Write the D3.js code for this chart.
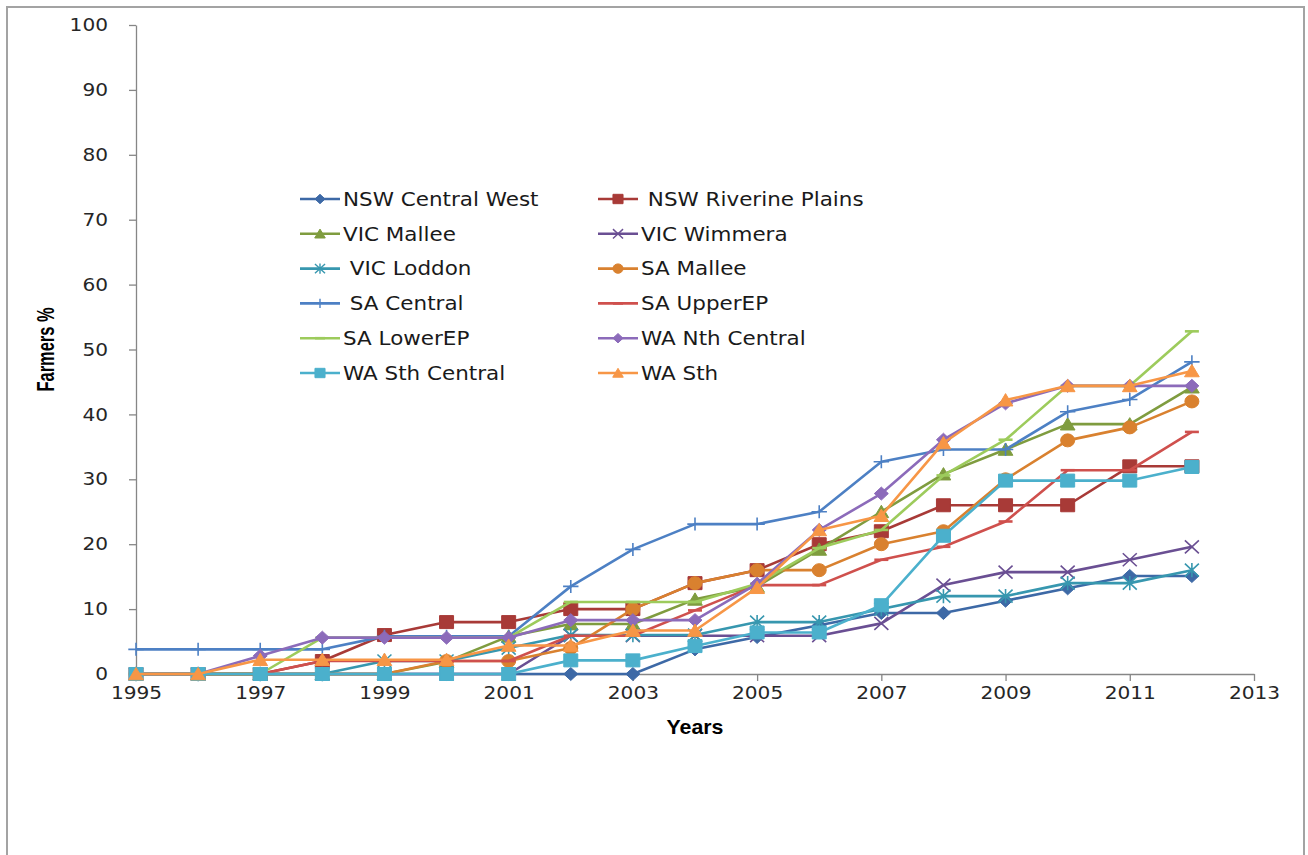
<!DOCTYPE html>
<html>
<head>
<meta charset="utf-8">
<script src="https://cdn.jsdelivr.net/npm/d3@7"></script>
<style>
  html, body { margin: 0; padding: 0; background: #ffffff; }
  svg { display: block; }
  text { white-space: pre; }
</style>
</head>
<body>
<svg id="chart" width="1308" height="855"></svg>
<script>
// ---- data -------------------------------------------------------------
const years = [1995, 1996, 1997, 1998, 1999, 2000, 2001, 2002, 2003,
               2004, 2005, 2006, 2007, 2008, 2009, 2010, 2011, 2012];
const yTickValues = [0, 10, 20, 30, 40, 50, 60, 70, 80, 90, 100];
const xTickValues = [1995, 1997, 1999, 2001, 2003, 2005, 2007, 2009, 2011, 2013];

const seriesNames = [
  "NSW Central West", " NSW Riverine Plains",
  "VIC Mallee", "VIC Wimmera",
  " VIC Loddon", "SA Mallee",
  " SA Central", "SA UpperEP",
  "SA LowerEP", "WA Nth Central",
  "WA Sth Central", "WA Sth"
];

// Adoption (% of farmers) per year, 1995–2012
const nswCentralWest    = [0, 0, 0, 0, 0, 0, 0, 0, 0, 3.8, 5.7, 7.5, 9.4, 9.4, 11.3, 13.2, 15.1, 15.1];
const nswRiverinePlains = [0, 0, 0, 2, 6, 8, 8, 10, 10, 14, 16, 20, 22, 26, 26, 26, 32, 32];
const vicMallee         = [0, 0, 0, 0, 0, 1.9, 5.8, 7.7, 7.7, 11.5, 13.5, 19.2, 25, 30.8, 34.6, 38.5, 38.5, 44.2];
const vicWimmera        = [0, 0, 0, 0, 0, 0, 0, 5.9, 5.9, 5.9, 5.9, 5.9, 7.8, 13.7, 15.7, 15.7, 17.6, 19.6];
const vicLoddon         = [0, 0, 0, 0, 2, 2, 4, 6, 6, 6, 8, 8, 10, 12, 12, 14, 14, 16];
const saMallee          = [0, 0, 0, 0, 0, 2, 2, 4, 10, 14, 16, 16, 20, 22, 30, 36, 38, 42];
const saCentral         = [3.8, 3.8, 3.8, 3.8, 5.8, 5.8, 5.8, 13.5, 19.2, 23.1, 23.1, 25, 32.7, 34.6, 34.6, 40.4, 42.3, 48.1];
const saUpperEP         = [0, 0, 0, 2, 2, 2, 2, 5.9, 5.9, 9.8, 13.7, 13.7, 17.6, 19.6, 23.5, 31.4, 31.4, 37.3];
const saLowerEP         = [0, 0, 0, 5.6, 5.6, 5.6, 5.6, 11.1, 11.1, 11.1, 13.9, 19.4, 22.2, 30.6, 36.1, 44.4, 44.4, 52.8];
const waNthCentral      = [0, 0, 2.8, 5.6, 5.6, 5.6, 5.6, 8.3, 8.3, 8.3, 13.9, 22.2, 27.8, 36.1, 41.7, 44.4, 44.4, 44.4];
const waSthCentral      = [0, 0, 0, 0, 0, 0, 0, 2.1, 2.1, 4.3, 6.4, 6.4, 10.6, 21.3, 29.8, 29.8, 29.8, 31.9];
const waSth             = [0, 0, 2.2, 2.2, 2.2, 2.2, 4.4, 4.4, 6.7, 6.7, 13.3, 22.2, 24.4, 35.6, 42.2, 44.4, 44.4, 46.7];

const seriesValues = [
  nswCentralWest, nswRiverinePlains, vicMallee, vicWimmera, vicLoddon, saMallee,
  saCentral, saUpperEP, saLowerEP, waNthCentral, waSthCentral, waSth
];

const seriesColors = [
  "#3d69a6", "#a83a37", "#7f9c3f", "#6a4f93", "#3797af", "#d9812f",
  "#4d80c4", "#cf504d", "#9dcb5c", "#8c6bba", "#4bb0cc", "#f79646"
];
const seriesMarkers = [
  "diamond", "square", "triangle", "x", "asterisk", "circle",
  "plus", "dash", "dash", "diamond", "square", "triangle"
];

// ---- layout -----------------------------------------------------------
const svg = d3.select("#chart");
const x = d3.scaleLinear().domain([1995, 2013]).range([136, 1254]);
const y = d3.scaleLinear().domain([0, 100]).range([674, 25]);

// widen glyphs horizontally by factor k
function stretch(sel, k) {
  sel.each(function () {
    const w = this.getComputedTextLength();
    this.setAttribute("textLength", (w * k).toFixed(1));
    this.setAttribute("lengthAdjust", "spacingAndGlyphs");
  });
}

function markerPath(type, k) {
  const w = 7 * k, h = 6.5 * k;
  switch (type) {
    case "diamond":  return `M0,${-h}L${w},0L0,${h}L${-w},0Z`;
    case "square":   return `M${-w},${-h}H${w}V${h}H${-w}Z`;
    case "triangle": return `M0,${-h}L${w * 1.05},${h * 0.9}L${-w * 1.05},${h * 0.9}Z`;
    case "circle":   return `M${-w},0A${w},${h} 0 1,0 ${w},0A${w},${h} 0 1,0 ${-w},0Z`;
    case "x":        return `M${-w},${-h}L${w},${h}M${-w},${h}L${w},${-h}`;
    case "asterisk": return `M${-w},${-h}L${w},${h}M${-w},${h}L${w},${-h}M0,${-h * 1.1}V${h * 1.1}`;
    case "plus":     return `M${-w * 1.1},0H${w * 1.1}M0,${-h}V${h}`;
    case "dash":     return `M${-w},0H${w}`;
  }
}
const filledMarker = t => ["diamond", "square", "triangle", "circle"].includes(t);

// outer frame
svg.append("rect")
  .attr("x", 7).attr("y", 7).attr("width", 1297).attr("height", 900)
  .attr("fill", "#ffffff").attr("stroke", "#a3a3a3").attr("stroke-width", 2);

// ---- axes -------------------------------------------------------------
const axisColor = "#868686";
const yAxis = svg.append("g")
  .attr("transform", `translate(${x(1995)},0)`)
  .call(d3.axisLeft(y).tickValues(yTickValues).tickSize(7).tickSizeOuter(0).tickPadding(21));
const xAxis = svg.append("g")
  .attr("transform", `translate(0,${y(0)})`)
  .call(d3.axisBottom(x).tickValues(xTickValues).tickFormat(d3.format("d"))
        .tickSize(7).tickSizeOuter(0).tickPadding(6));

[yAxis, xAxis].forEach(g => {
  g.select(".domain").attr("stroke", axisColor).attr("stroke-width", 1.3);
  g.selectAll(".tick line").attr("stroke", axisColor).attr("stroke-width", 1.3);
  g.selectAll(".tick text")
    .attr("fill", "#262626")
    .attr("font-family", "'DejaVu Sans', Verdana, sans-serif")
    .attr("font-size", 17.5);
});
stretch(yAxis.selectAll(".tick text"), 1.15);
stretch(xAxis.selectAll(".tick text"), 1.15);

// axis titles
svg.append("text")
  .attr("transform", `translate(54,${(y(0) + y(100)) / 2}) rotate(-90)`)
  .attr("text-anchor", "middle")
  .attr("font-family", "'Liberation Sans Narrow', 'Liberation Sans', Arial, sans-serif")
  .attr("font-weight", "bold").attr("font-size", 23).attr("fill", "#000")
  .attr("textLength", 84).attr("lengthAdjust", "spacingAndGlyphs")
  .text("Farmers %");

svg.append("text")
  .attr("x", (x(1995) + x(2013)) / 2).attr("y", 734)
  .attr("text-anchor", "middle")
  .attr("font-family", "'Liberation Sans Narrow', 'Liberation Sans', Arial, sans-serif")
  .attr("font-weight", "bold").attr("font-size", 21).attr("fill", "#000")
  .attr("textLength", 57).attr("lengthAdjust", "spacingAndGlyphs")
  .text("Years");

// ---- series -----------------------------------------------------------
const line = d3.line().x((d, i) => x(years[i])).y(d => y(d));

seriesValues.forEach((vals, si) => {
  const color = seriesColors[si];
  const type = seriesMarkers[si];
  const g = svg.append("g").attr("class", "series");
  g.append("path")
    .attr("d", line(vals))
    .attr("fill", "none")
    .attr("stroke", color)
    .attr("stroke-width", 2.6)
    .attr("stroke-linejoin", "round");
  g.selectAll("path.marker")
    .data(vals)
    .join("path")
    .attr("class", "marker")
    .attr("transform", (d, i) => `translate(${x(years[i])},${y(d)})`)
    .attr("d", markerPath(type, 1))
    .attr("fill", filledMarker(type) ? color : "none")
    .attr("stroke", color)
    .attr("stroke-width", filledMarker(type) ? 1 : (type === "dash" ? 2.6 : 1.6));
});

// ---- legend -----------------------------------------------------------
const legendCols = [300, 598];
const legendTop = 199, legendStep = 34.8;
const legend = svg.append("g").attr("class", "legend");
seriesNames.forEach((name, si) => {
  const cx = legendCols[si % 2];
  const cy = legendTop + Math.floor(si / 2) * legendStep;
  const color = seriesColors[si];
  const type = seriesMarkers[si];
  const item = legend.append("g").attr("transform", `translate(${cx},${cy})`);
  item.append("line")
    .attr("x1", 0).attr("x2", 40).attr("y1", 0).attr("y2", 0)
    .attr("stroke", color).attr("stroke-width", 2.6);
  item.append("path")
    .attr("transform", "translate(20,0)")
    .attr("d", markerPath(type, 0.72))
    .attr("fill", filledMarker(type) ? color : "none")
    .attr("stroke", color)
    .attr("stroke-width", filledMarker(type) ? 1 : (type === "dash" ? 2.6 : 1.4));
  item.append("text")
    .attr("x", 43).attr("y", 0).attr("dy", "0.36em")
    .attr("font-family", "'DejaVu Sans', Verdana, sans-serif")
    .attr("font-size", 19).attr("fill", "#1a1a1a")
    .text(name);
});
stretch(legend.selectAll("text"), 1.13);
</script>
</body>
</html>
